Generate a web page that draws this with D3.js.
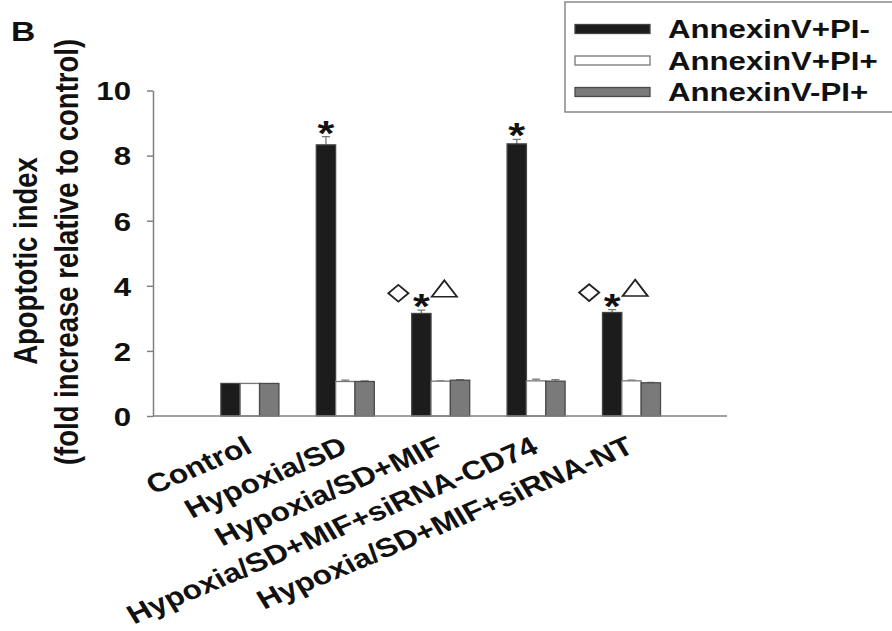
<!DOCTYPE html>
<meta charset="utf-8">
<style>
    body { margin: 0; background: #fff; }
    svg { display: block; }
    text { font-family: "Liberation Sans", Arial, sans-serif; font-weight: bold; fill: #111; }
</style>

<script src="https://d3js.org/d3.v7.min.js"></script>

<svg id="chart" width="892" height="631"></svg>

<script>

// Data

var categories = ['Control', 'Hypoxia/SD', 'Hypoxia/SD+MIF',
                  'Hypoxia/SD+MIF+siRNA-CD74', 'Hypoxia/SD+MIF+siRNA-NT'];
var seriesNames = ['AnnexinV+PI-', 'AnnexinV+PI+', 'AnnexinV-PI+'];

var annexinPosPINeg = [1.00, 8.33, 3.15, 8.36, 3.18];
var annexinPosPINegErr = [0, 0.25, 0.10, 0.14, 0.09];
var annexinPosPIPos = [1.00, 1.06, 1.07, 1.08, 1.08];
var annexinPosPIPosErr = [0, 0.04, 0.01, 0.05, 0.02];
var annexinNegPIPos = [1.00, 1.06, 1.10, 1.07, 1.02];
var annexinNegPIPosErr = [0, 0.02, 0.02, 0.05, 0.01];

var yTicks = [0, 2, 4, 6, 8, 10];

// significance marks drawn above the AnnexinV+PI- bar of each group
var marks = [
    { group: 'Hypoxia/SD', symbols: ['star'] },
    { group: 'Hypoxia/SD+MIF', symbols: ['diamond', 'star', 'triangle'] },
    { group: 'Hypoxia/SD+MIF+siRNA-CD74', symbols: ['star'] },
    { group: 'Hypoxia/SD+MIF+siRNA-NT', symbols: ['diamond', 'star', 'triangle'] }
];

var seriesValues = [annexinPosPINeg, annexinPosPIPos, annexinNegPIPos];
var seriesErrors = [annexinPosPINegErr, annexinPosPIPosErr, annexinNegPIPosErr];
var fills = ['#1c1c1c', '#ffffff', '#7a7a7a'];
var strokes = ['#444', '#777', '#4a4a4a'];

// Setup

var svg = d3.select('svg#chart');

var sx = 1.2;          // the source figure is stretched horizontally; text follows it
var fontSize = 26;

var x0 = 153, x1 = 727;            // axis extent
var y = d3.scaleLinear().domain([0, 10]).range([416, 90.5]);

var x = d3.scaleBand()
    .domain(categories)
    .range([202.2, 679.2])
    .paddingInner(0.392)
    .paddingOuter(0.196);

var xSub = d3.scaleBand()
    .domain(seriesNames)
    .range([0, x.bandwidth()]);

var stretch = function (px, py, rot) {
    return 'translate(' + px + ',' + py + ') scale(' + sx + ',1)' + (rot ? ' rotate(' + rot + ')' : '');
};

// Bars

var rows = [];
seriesNames.forEach(function (s, si) {
    categories.forEach(function (c, ci) {
        rows.push({ cat: c, series: s, si: si, value: seriesValues[si][ci], err: seriesErrors[si][ci] });
    });
});

var bars = svg.append('g');

bars.selectAll('line.err')
    .data(rows.filter(function (d) { return d.err > 0; }))
    .enter().append('path')
    .attr('class', 'err')
    .attr('fill', 'none')
    .attr('stroke', '#777')
    .attr('stroke-width', 1.3)
    .attr('d', function (d) {
        var cx = x(d.cat) + xSub(d.series) + xSub.bandwidth() / 2;
        var top = y(d.value + d.err);
        return 'M' + cx + ',' + y(d.value) + 'V' + top + 'M' + (cx - 4) + ',' + top + 'H' + (cx + 4);
    });

bars.selectAll('rect')
    .data(rows)
    .enter().append('rect')
    .attr('x', function (d) { return x(d.cat) + xSub(d.series); })
    .attr('y', function (d) { return y(d.value); })
    .attr('width', xSub.bandwidth())
    .attr('height', function (d) { return y(0) - y(d.value); })
    .attr('fill', function (d) { return fills[d.si]; })
    .attr('stroke', function (d) { return strokes[d.si]; })
    .attr('stroke-width', 1.3);

// Axes

var yAxis = svg.append('g')
    .attr('transform', 'translate(' + x0 + ',0)')
    .call(d3.axisLeft(y).tickValues(yTicks).tickSize(6).tickSizeOuter(0).tickFormat(d3.format('d')));

yAxis.select('.domain').attr('stroke', '#808080').attr('stroke-width', 1.5);
yAxis.selectAll('.tick line').attr('stroke', '#808080').attr('stroke-width', 1.5);
yAxis.selectAll('.tick text')
    .attr('x', null)
    .attr('dy', '0.36em')
    .attr('font-size', fontSize)
    .attr('font-family', null)
    .attr('fill', '#111')
    .attr('transform', stretch(-22, 0));

svg.append('line')
    .attr('x1', x0).attr('x2', x1)
    .attr('y1', y(0)).attr('y2', y(0))
    .attr('stroke', '#808080')
    .attr('stroke-width', 1.5);

// Category labels

svg.append('g').selectAll('text')
    .data(categories)
    .enter().append('text')
    .attr('text-anchor', 'end')
    .attr('font-size', 26.5)
    .attr('transform', function (d) { return stretch(x(d) + x.bandwidth() / 2 + 4, 452, -27); })
    .text(function (d) { return d; });

// Y label

var ylab = svg.append('g');
ylab.append('text')
    .attr('text-anchor', 'middle')
    .attr('font-size', 27.5)
    .attr('transform', stretch(37, 261, -90))
    .text('Apoptotic index');
ylab.append('text')
    .attr('text-anchor', 'middle')
    .attr('font-size', 27.5)
    .attr('transform', stretch(78, 252, -90))
    .text('(fold increase relative to control)');

// Panel letter

svg.append('text')
    .attr('font-size', 28)
    .attr('transform', stretch(11, 41))
    .text('B');

// Significance marks

var markG = svg.append('g');
marks.forEach(function (m) {
    var ci = categories.indexOf(m.group);
    var cx = x(m.group) + xSub(seriesNames[0]) + xSub.bandwidth() / 2;
    var top = y(annexinPosPINeg[ci] + annexinPosPINegErr[ci]);
    m.symbols.forEach(function (s) {
        if (s === 'star') {
            markG.append('text')
                .attr('text-anchor', 'middle')
                .attr('font-size', 36)
                .attr('transform', stretch(cx, top + 8))
                .text('*');
        } else if (s === 'diamond') {
            markG.append('path')
                .attr('d', d3.symbol().type(d3.symbolSquare).size(140)())
                .attr('fill', 'none').attr('stroke', '#222').attr('stroke-width', 1.7)
                .attr('transform', 'translate(' + (cx - 23) + ',' + (top - 17) + ') scale(' + sx + ',1) rotate(45)');
        } else {
            markG.append('path')
                .attr('d', d3.symbol().type(d3.symbolTriangle).size(190)())
                .attr('fill', 'none').attr('stroke', '#222').attr('stroke-width', 1.7)
                .attr('transform', 'translate(' + (cx + 23) + ',' + (top - 19) + ') scale(' + sx + ',0.9)');
        }
    });
});

// Legend

var legend = svg.append('g');
legend.append('rect')
    .attr('x', 565).attr('y', 2)
    .attr('width', 360).attr('height', 110)
    .attr('fill', '#fff')
    .attr('stroke', '#888')
    .attr('stroke-width', 1.5);

var ly = d3.scalePoint().domain(seriesNames).range([29, 92]);

legend.selectAll('rect.sw')
    .data(seriesNames)
    .enter().append('rect')
    .attr('class', 'sw')
    .attr('x', 575)
    .attr('y', function (d) { return ly(d) - 4.5; })
    .attr('width', 75)
    .attr('height', 9)
    .attr('fill', function (d, i) { return fills[i]; })
    .attr('stroke', function (d, i) { return strokes[i]; })
    .attr('stroke-width', 1.3);

legend.selectAll('text')
    .data(seriesNames)
    .enter().append('text')
    .attr('font-size', fontSize)
    .attr('transform', function (d) { return stretch(668, ly(d) + 9); })
    .text(function (d) { return d; });

</script>
